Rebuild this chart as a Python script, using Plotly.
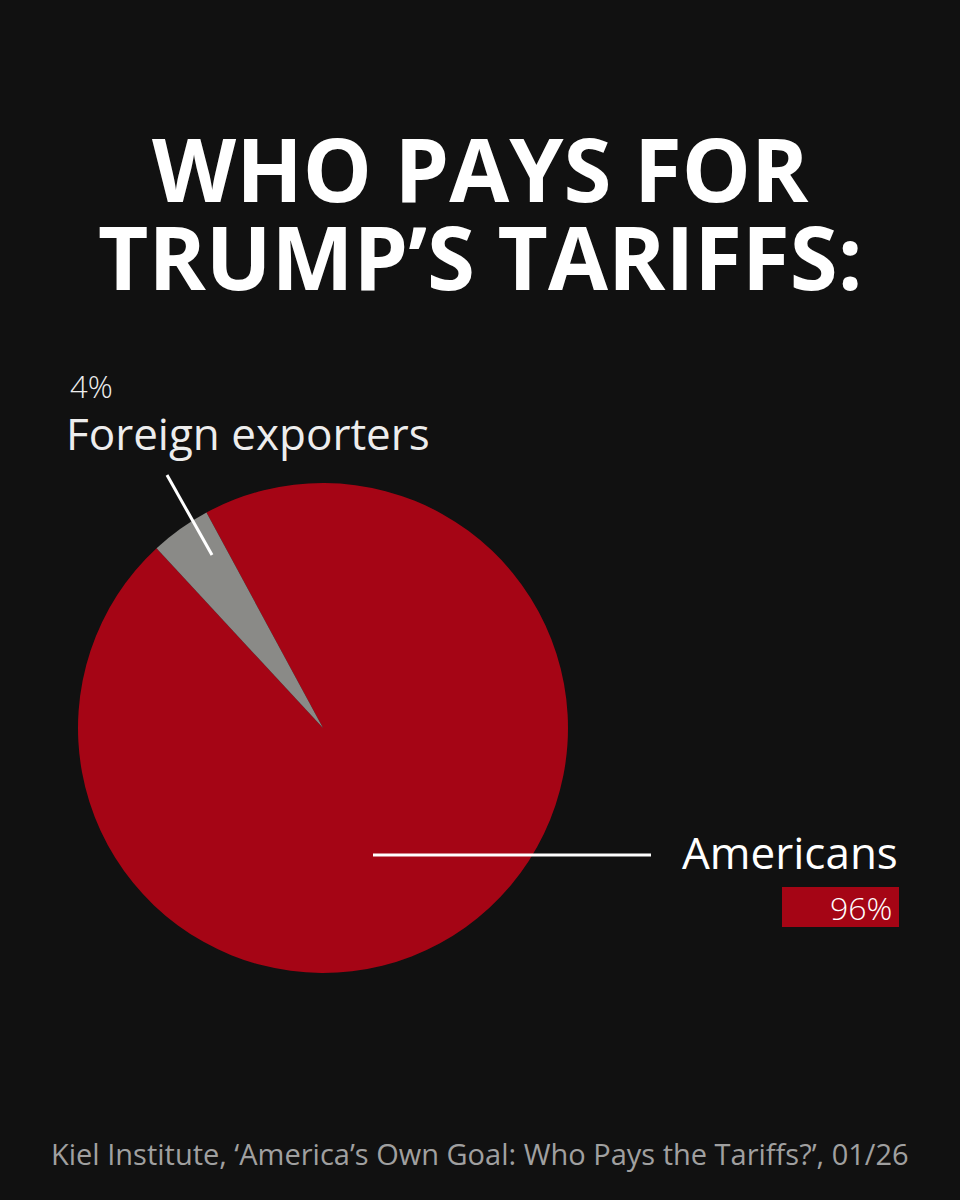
import plotly.graph_objects as go

labels = ["Americans", "Foreign exporters"]
shares = [96, 4]
colors = ["#A50515", "#8A8A87"]
title_lines = ["WHO PAYS FOR", "TRUMP’S TARIFFS:"]
source = "Kiel Institute, ‘America’s Own Goal: Who Pays the Tariffs?’, 01/26"

W, H = 960, 1200
BG = "#111111"
FONT = "Open Sans"

def px(x):
    return x / W

def py(y):
    return 1 - y / H

fig = go.Figure(go.Pie(
    labels=labels,
    values=shares,
    marker=dict(colors=colors, line=dict(width=0)),
    sort=False,
    direction="clockwise",
    rotation=-28.4,
    textinfo="none",
    hoverinfo="label+percent",
    showlegend=False,
    domain=dict(x=[px(78), px(568)], y=[py(973), py(483)]),
))

title_html = "<br>".join(
    f"<span style='font-size:87px'><b>{t}</b></span>" for t in title_lines
)

ann = []
ann.append(dict(text=title_html, x=0.5, y=py(212), xref="paper", yref="paper",
                xanchor="center", yanchor="middle", showarrow=False,
                font=dict(family=FONT, size=68, color="white", weight=800)))
ann.append(dict(text=f"{shares[1]}%", x=px(68), y=py(386), xref="paper", yref="paper",
                xanchor="left", yanchor="middle", showarrow=False,
                font=dict(family=FONT, size=31, color="#EDEDED", weight=300)))
ann.append(dict(text=labels[1], x=px(64), y=py(433), xref="paper", yref="paper",
                xanchor="left", yanchor="middle", showarrow=False,
                font=dict(family=FONT, size=44, color="#EDEDED", weight=400)))
ann.append(dict(text=labels[0], x=px(900), y=py(852), xref="paper", yref="paper",
                xanchor="right", yanchor="middle", showarrow=False,
                font=dict(family=FONT, size=44, color="white", weight=400)))
ann.append(dict(text=f"{shares[0]}%", x=px(894), y=py(907), xref="paper", yref="paper",
                xanchor="right", yanchor="middle", showarrow=False,
                font=dict(family=FONT, size=32, color="white", weight=300)))
ann.append(dict(text=source, x=0.5, y=py(1153), xref="paper", yref="paper",
                xanchor="center", yanchor="middle", showarrow=False,
                font=dict(family=FONT, size=29, color="#A0A0A0", weight=400)))

shapes = [
    dict(type="rect", xref="paper", yref="paper", x0=px(782), x1=px(899), y0=py(927), y1=py(887),
         fillcolor=colors[0], line=dict(width=0), layer="below"),
    dict(type="line", xref="paper", yref="paper", x0=px(373), x1=px(651), y0=py(855), y1=py(855),
         line=dict(color="white", width=3), layer="above"),
    dict(type="line", xref="paper", yref="paper", x0=px(167), x1=px(212), y0=py(475), y1=py(555),
         line=dict(color="white", width=3), layer="above"),
]

fig.update_layout(
    width=W, height=H,
    margin=dict(l=0, r=0, t=0, b=0),
    paper_bgcolor=BG, plot_bgcolor=BG,
    annotations=ann, shapes=shapes,
)

fig.write_html("out.html", config={"displayModeBar": False},
               post_script="document.body.style.margin='0';document.body.style.overflow='hidden';")
